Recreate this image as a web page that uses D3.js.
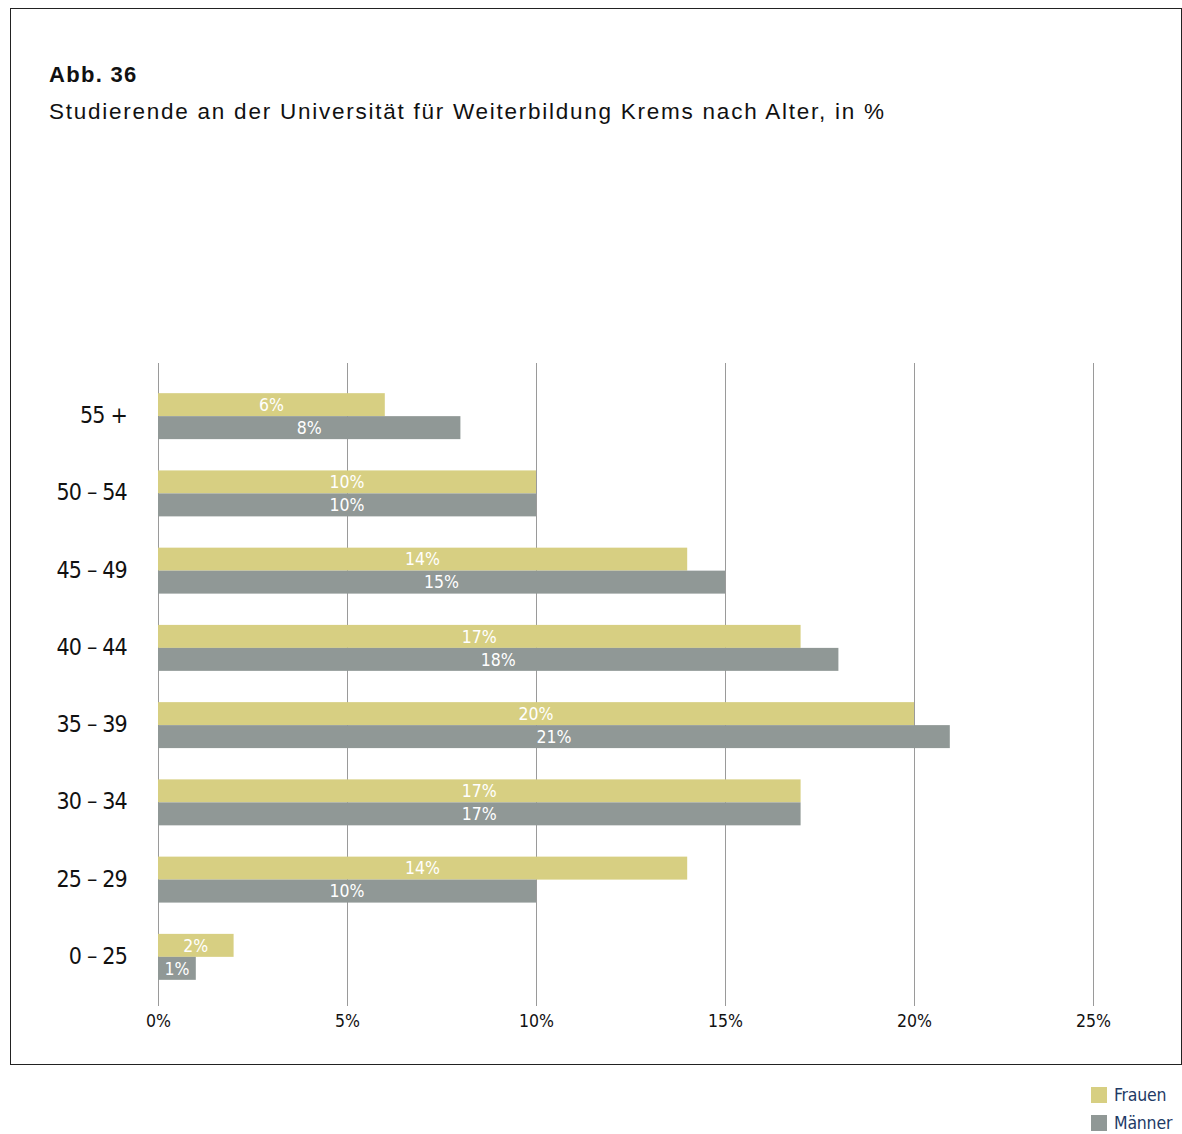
<!DOCTYPE html>
<html><head><meta charset="utf-8">
<script src="https://cdn.jsdelivr.net/npm/d3@7"></script>
<style>
body{margin:0;background:#fff;}
svg{display:block;}
.cond{font-family:"Liberation Sans Narrow","DejaVu Sans Condensed","Roboto",sans-serif;}
</style></head>
<body>
<svg id="chart" width="1182" height="1134"></svg>
<script>
const categories = ["55 +", "50 – 54", "45 – 49", "40 – 44", "35 – 39", "30 – 34", "25 – 29", "0 – 25"];
const frauen = [6, 10, 14, 17, 20, 17, 14, 2];
const maenner = [8, 10, 15, 18, 21, 17, 10, 1];
const seriesNames = ["Frauen", "Männer"];
const tickValues = [0, 5, 10, 15, 20, 25];
const tickLabels = ["0%", "5%", "10%", "15%", "20%", "25%"];
const titleLine1 = "Abb. 36";
const titleLine2 = "Studierende an der Universität für Weiterbildung Krems nach Alter, in %";

const colors = ["#d7cf82", "#909896"];
const svg = d3.select("#chart");

svg.append("rect").attr("x", 10.5).attr("y", 8.5).attr("width", 1171).attr("height", 1056)
  .attr("fill", "none").attr("stroke", "#222").attr("stroke-width", 1);

svg.append("text").attr("x", 49).attr("y", 82).text(titleLine1)
  .attr("font-family", "Liberation Sans, Arial, sans-serif").attr("font-weight", "bold")
  .attr("font-size", 22).attr("letter-spacing", 1.3).attr("fill", "#111");
svg.append("text").attr("x", 49).attr("y", 119).text(titleLine2)
  .attr("font-family", "Liberation Sans, Arial, sans-serif").attr("font-size", 22.5)
  .attr("letter-spacing", 1.75).attr("fill", "#111");

const x = d3.scaleLinear().domain([0, 20, 25]).range([158, 914, 1093]);
const y = d3.scaleBand().domain(categories).range([370, 1003]).paddingInner(0.405).paddingOuter(0.3);
const yInner = d3.scaleBand().domain(seriesNames).range([0, y.bandwidth()]);

// grid lines
svg.append("g").selectAll("line").data(tickValues).join("line")
  .attr("x1", d => x(d) + 0.5).attr("x2", d => x(d) + 0.5)
  .attr("y1", 363).attr("y2", 1006)
  .attr("stroke", "#9a9a9a").attr("stroke-width", 1);

// x axis tick labels
const xAxis = d3.axisBottom(x).tickValues(tickValues).tickFormat((d, i) => tickLabels[i]).tickSize(0).tickPadding(0);
const gx = svg.append("g").attr("transform", "translate(0,1015)").call(xAxis);
gx.select(".domain").remove();
gx.selectAll("text").attr("class", "cond").attr("font-size", 17.5).attr("fill", "#111").attr("dy", "0.71em");

// y axis labels
const yAxis = d3.axisLeft(y).tickSize(0).tickPadding(0);
const gy = svg.append("g").attr("transform", "translate(127,0)").call(yAxis);
gy.select(".domain").remove();
gy.selectAll("text").attr("class", "cond").attr("font-size", 23).attr("letter-spacing", -0.8)
  .attr("fill", "#111").attr("dy", "0.3em");

const rows = categories.map((c, i) => ({cat: c, vals: [frauen[i], maenner[i]]}));
const groups = svg.append("g").selectAll("g").data(rows).join("g")
  .attr("transform", d => `translate(0,${y(d.cat)})`);
groups.selectAll("rect").data(d => d.vals.map((v, j) => ({v, s: seriesNames[j], j}))).join("rect")
  .attr("x", x(0)).attr("y", d => yInner(d.s)).attr("width", d => x(d.v) - x(0)).attr("height", yInner.bandwidth())
  .attr("fill", d => colors[d.j]);
groups.selectAll("text").data(d => d.vals.map((v, j) => ({v, s: seriesNames[j], j}))).join("text")
  .attr("class", "cond")
  .attr("x", d => (x(d.v) + x(0)) / 2).attr("y", d => yInner(d.s) + yInner.bandwidth() / 2)
  .attr("dy", "0.36em").attr("text-anchor", "middle")
  .attr("font-size", 17.5).attr("fill", "#fff").text(d => d.v + "%");

// legend
const leg = svg.append("g").selectAll("g").data(seriesNames).join("g")
  .attr("transform", (d, i) => `translate(1091,${1087 + i * 28})`);
leg.append("rect").attr("width", 16).attr("height", 16).attr("fill", (d, i) => colors[i]);
leg.append("text").attr("class", "cond").attr("x", 23).attr("y", 8).attr("dy", "0.36em")
  .attr("font-size", 17.5).attr("letter-spacing", -0.2).attr("fill", "#1e3a66").text(d => d);
</script>
</body></html>
